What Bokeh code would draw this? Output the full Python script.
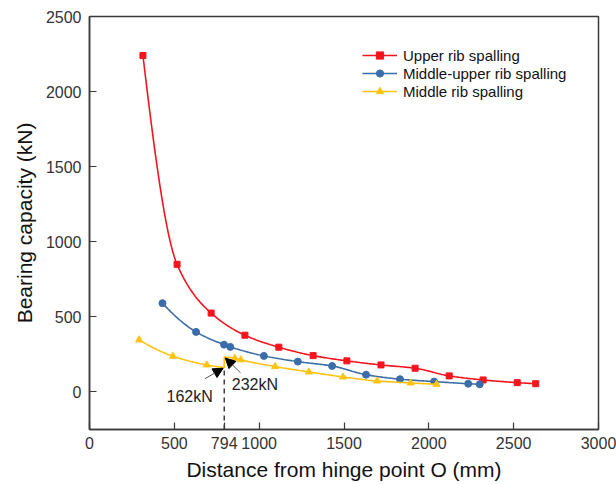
import numpy as np
from bokeh.plotting import figure
from bokeh.models import (Range1d, FixedTicker, Legend, LegendItem, Arrow,
                          NormalHead, Label)
from bokeh.embed import file_html
from bokeh.resources import INLINE

# ---- data ----
upper_x = [315, 516, 717, 916, 1116, 1318, 1517, 1718, 1919, 2120, 2320, 2521, 2630]
upper_y = [2240, 850, 525, 378, 298, 242, 207, 180, 158, 107, 80, 62, 55]

midup_x = [430, 628, 793, 830, 1028, 1228, 1430, 1630, 1830, 2031, 2232, 2300]
midup_y = [591, 400, 315, 300, 240, 202, 173, 115, 85, 69, 55, 51]

mid_before_x = [292, 492, 691, 794]
mid_before_y = [347, 238, 180, 162]
mid_after_x = [794, 856, 892, 1094, 1293, 1494, 1695, 1893, 2045]
mid_after_y = [232, 225, 214, 169, 133, 100, 73, 60, 51]

x_ticks = [0, 500, 794, 1000, 1500, 2000, 2500, 3000]
y_ticks = [0, 500, 1000, 1500, 2000, 2500]
jump_x = 794
low_val = 162
high_val = 232

RED = "#f5141e"
BLUE = "#3b6ea8"
YEL = "#ffc20e"
FONT = "Liberation Sans"


def _end_slope(h0, h1, d0, d1):
    m = ((2 * h0 + h1) * d0 - h0 * d1) / (h0 + h1)
    if np.sign(m) != np.sign(d0):
        m = 0.0
    elif np.sign(d0) != np.sign(d1) and abs(m) > abs(3 * d0):
        m = 3 * d0
    return m


def smooth(xs, ys, n=24):
    """Monotone cubic path through the points (line rendering only)."""
    x = np.asarray(xs, float)
    y = np.asarray(ys, float)
    h = np.diff(x)
    d = np.diff(y) / h
    m = np.zeros_like(y)
    if len(x) > 2:
        m[0] = _end_slope(h[0], h[1], d[0], d[1])
        m[-1] = _end_slope(h[-1], h[-2], d[-1], d[-2])
    else:
        m[0], m[-1] = d[0], d[-1]
    for i in range(1, len(x) - 1):
        if d[i - 1] * d[i] <= 0:
            m[i] = 0
        else:
            w1 = 2 * h[i] + h[i - 1]
            w2 = h[i] + 2 * h[i - 1]
            m[i] = (w1 + w2) / (w1 / d[i - 1] + w2 / d[i])
    px, py = [], []
    for i in range(len(x) - 1):
        t = np.linspace(0, 1, n, endpoint=False)
        h00 = 2 * t**3 - 3 * t**2 + 1
        h10 = t**3 - 2 * t**2 + t
        h01 = -2 * t**3 + 3 * t**2
        h11 = t**3 - t**2
        px.extend(x[i] + t * h[i])
        py.extend(h00 * y[i] + h10 * h[i] * m[i] + h01 * y[i + 1] + h11 * h[i] * m[i + 1])
    px.append(x[-1])
    py.append(y[-1])
    return px, py


p = figure(width=616, height=485, output_backend="svg", toolbar_location=None,
           x_range=Range1d(0, 3000), y_range=Range1d(-250, 2500),
           min_border_left=89, min_border_right=18, min_border_top=16,
           min_border_bottom=56)
p.background_fill_color = "white"
p.border_fill_color = "white"
p.outline_line_color = "#3a3a3a"
p.outline_line_width = 1.5
p.grid.visible = False

for ax in (p.xaxis[0], p.yaxis[0]):
    ax.axis_line_color = "#3a3a3a"
    ax.axis_line_width = 1.5
    ax.major_tick_in = 7
    ax.major_tick_out = 0
    ax.major_tick_line_color = "#3a3a3a"
    ax.major_tick_line_width = 1.2
    ax.minor_tick_line_color = None
    ax.major_label_text_font = FONT
    ax.major_label_text_font_size = "16px"
    ax.major_label_text_color = "#333333"
    ax.axis_label_text_font = FONT
    ax.axis_label_text_font_size = "21px"
    ax.axis_label_text_font_style = "normal"
    ax.axis_label_text_color = "#111111"

p.xaxis.ticker = FixedTicker(ticks=x_ticks)
p.yaxis.ticker = FixedTicker(ticks=y_ticks)
p.xaxis.axis_label = "Distance from hinge point O (mm)"
p.yaxis.axis_label = "Bearing capacity (kN)"
p.xaxis.major_label_standoff = 7
p.yaxis.major_label_standoff = 8
p.xaxis.axis_label_standoff = 6
p.yaxis.axis_label_standoff = 7

# dashed marker line at the jump
p.segment(x0=[jump_x], y0=[-250], x1=[jump_x], y1=[low_val],
          line_color="#222222", line_width=1.3, line_dash="5 4")

# upper rib
ux, uy = smooth(upper_x, upper_y)
r1l = p.line(ux, uy, line_color=RED, line_width=1.6)
r1s = p.scatter(upper_x, upper_y, marker="square", size=6, color=RED)

# middle-upper rib
bx, by = smooth(midup_x, midup_y)
r2l = p.line(bx, by, line_color=BLUE, line_width=1.6)
r2s = p.scatter(midup_x, midup_y, marker="circle", size=7, color=BLUE)

# middle rib (two pieces with a vertical jump)
y1x, y1y = smooth(mid_before_x, mid_before_y)
y2x, y2y = smooth(mid_after_x, mid_after_y)
r3l = p.line(y1x + y2x, y1y + y2y, line_color=YEL, line_width=1.6)
r3s = p.scatter(mid_before_x[:-1] + mid_after_x[1:], mid_before_y[:-1] + mid_after_y[1:],
                marker="triangle", size=7, color=YEL)

# legend-only glyphs (smaller markers, as in the reference legend)
lg1l = p.line([np.nan], [np.nan], line_color=RED, line_width=1.6)
lg1s = p.scatter([np.nan], [np.nan], marker="square", size=4, color=RED)
lg2l = p.line([np.nan], [np.nan], line_color=BLUE, line_width=1.6)
lg2s = p.scatter([np.nan], [np.nan], marker="circle", size=5, color=BLUE)
lg3l = p.line([np.nan], [np.nan], line_color=YEL, line_width=1.6)
lg3s = p.scatter([np.nan], [np.nan], marker="triangle", size=5, color=YEL)

# annotations
p.add_layout(Arrow(end=NormalHead(size=10, fill_color="black", line_color="black"),
                   x_start=680, y_start=88, x_end=jump_x - 6, y_end=low_val - 4,
                   line_color="#555555", line_width=1))
p.add_layout(Arrow(end=NormalHead(size=10, fill_color="black", line_color="black"),
                   x_start=890, y_start=128, x_end=jump_x + 6, y_end=high_val - 6,
                   line_color="#555555", line_width=1))
p.add_layout(Label(x=590, y=-27, text=f"{low_val}kN", text_align="center",
                   text_baseline="middle", text_font=FONT, text_font_size="16px",
                   text_color="#222222"))
p.add_layout(Label(x=975, y=47, text=f"{high_val}kN", text_align="center",
                   text_baseline="middle", text_font=FONT, text_font_size="16px",
                   text_color="#222222"))

legend = Legend(items=[
    LegendItem(label="Upper rib spalling", renderers=[lg1l, lg1s]),
    LegendItem(label="Middle-upper rib spalling", renderers=[lg2l, lg2s]),
    LegendItem(label="Middle rib spalling", renderers=[lg3l, lg3s]),
], location=(273, 329))
legend.border_line_color = None
legend.background_fill_alpha = 0
legend.padding = 0
legend.margin = 0
legend.spacing = 0
legend.glyph_width = 35
legend.glyph_height = 18
legend.label_height = 18
legend.label_standoff = 6
legend.label_text_font = FONT
legend.label_text_font_size = "15px"
legend.label_text_color = "#111111"
p.add_layout(legend)

open("out.html", "w").write(file_html(p, INLINE))
